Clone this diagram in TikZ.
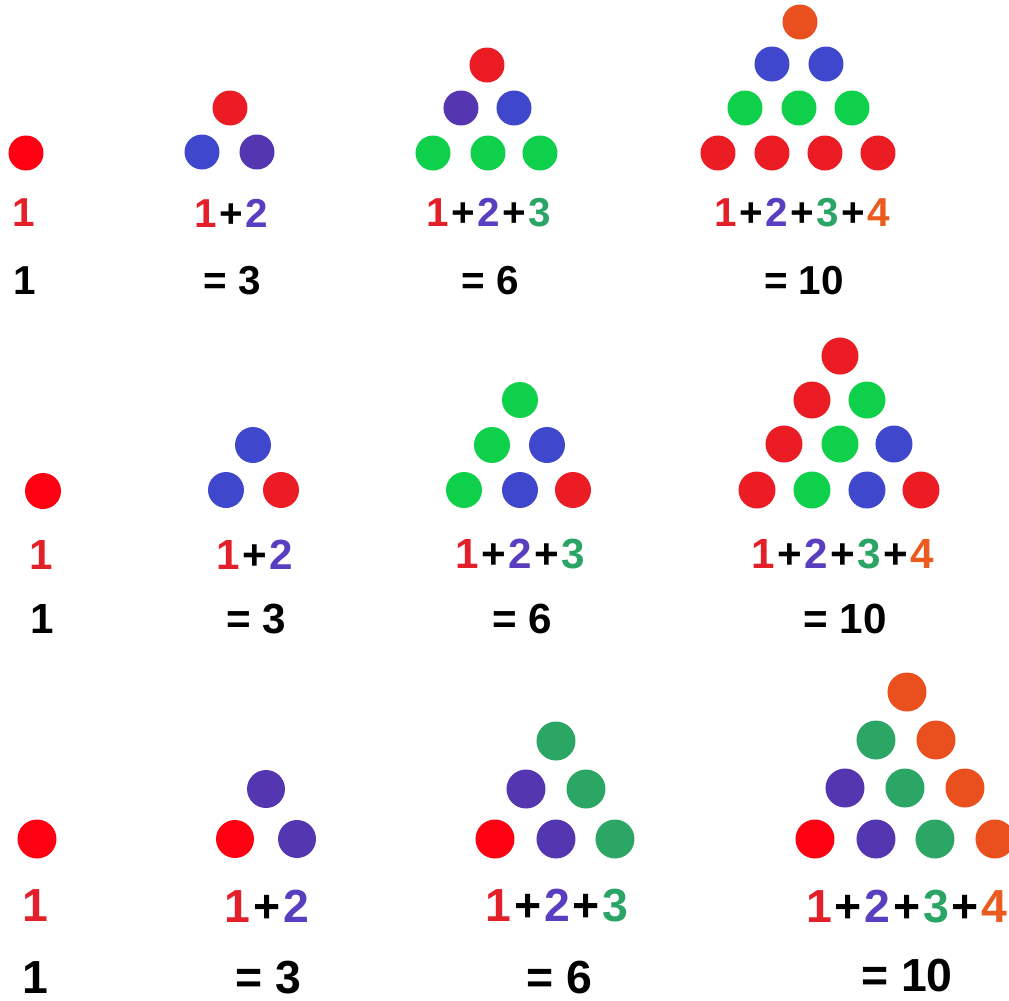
\documentclass[tikz,border=0pt]{standalone}
\usepackage{fontspec}
\setmainfont{Liberation Sans}
\usepackage{xcolor}
\definecolor{bred}{HTML}{FF0013}
\definecolor{dred}{HTML}{EC1C24}
\definecolor{dblue}{HTML}{3F48CC}
\definecolor{dpurple}{HTML}{5436B0}
\definecolor{lgreen}{HTML}{0FD04B}
\definecolor{dgreen}{HTML}{2CA664}
\definecolor{dorange}{HTML}{E9501E}
\definecolor{tred}{HTML}{E3202A}
\definecolor{tpurple}{HTML}{5A3EC0}
\definecolor{tgreen}{HTML}{2BA566}
\definecolor{torange}{HTML}{EB5B1E}
\newcommand{\numA}{\textcolor{tred}{1}}
\newcommand{\numB}{\textcolor{tpurple}{2}}
\newcommand{\numC}{\textcolor{tgreen}{3}}
\newcommand{\numD}{\textcolor{torange}{4}}
\newcommand{\addsign}{\kern.06em+\kern.06em}
\usetikzlibrary{positioning}
\tikzset{
  every picture/.style={line join=round, line cap=round},
  rowA/.style={inner sep=0pt, font=\fontsize{11.5}{13}\selectfont\bfseries},
  rowB/.style={inner sep=0pt, font=\fontsize{12}{14}\selectfont\bfseries},
  rowC/.style={inner sep=0pt, font=\fontsize{13.2}{15}\selectfont\bfseries},
}

\begin{document}
\begin{tikzpicture}
\useasboundingbox (0,0) rectangle (10.09,-10.01);
% first row
\fill[bred](0.26,-1.53)circle(0.175);
\fill[dred](2.30,-1.08)circle(0.175);
\fill[dblue](2.02,-1.52)circle(0.175);
\fill[dpurple](2.57,-1.52)circle(0.175);
\fill[dred](4.87,-0.65)circle(0.175);
\fill[dpurple](4.61,-1.08)circle(0.175);
\fill[dblue](5.14,-1.08)circle(0.175);
\fill[lgreen](4.33,-1.53)circle(0.175) (4.88,-1.53)circle(0.175) (5.40,-1.53)circle(0.175);
\fill[dorange](8.00,-0.22)circle(0.175);
\fill[dblue](7.72,-0.64)circle(0.175) (8.26,-0.64)circle(0.175);
\fill[lgreen](7.45,-1.08)circle(0.175) (7.99,-1.08)circle(0.175) (8.52,-1.08)circle(0.175);
\fill[dred](7.18,-1.53)circle(0.175) (7.72,-1.53)circle(0.175) (8.25,-1.53)circle(0.175) (8.78,-1.53)circle(0.175);
\draw(0.24,-2.13)node[rowA](sa1){\numA}
(0.25,-2.81)node[rowA](ra1){1}
(2.31,-2.13)node[rowA](sa2){\numA\addsign\numB}
(2.32,-2.81)node[rowA](ra2){= 3}
(4.89,-2.13)node[rowA](sa3){\numA\addsign\numB\addsign\numC}
(4.90,-2.81)node[rowA](ra3){= 6}
(8.02,-2.13)node[rowA](sa4){\numA\addsign\numB\addsign\numC\addsign\numD}
(8.04,-2.81)node[rowA](ra4){= 10};
% second row
\fill[bred](0.43,-4.91)circle(0.18);
\fill[dblue](2.53,-4.45)circle(0.18) (2.26,-4.90)circle(0.18);
\fill[dred](2.81,-4.90)circle(0.18);
\fill[lgreen](5.20,-4.00)circle(0.18) (4.92,-4.45)circle(0.18) (4.64,-4.90)circle(0.18);
\fill[dblue](5.47,-4.45)circle(0.18) (5.20,-4.90)circle(0.18);
\fill[dred](5.73,-4.90)circle(0.18);
\fill[dred](8.40,-3.56)circle(0.185) (8.12,-4.00)circle(0.185) (7.84,-4.44)circle(0.185) (7.57,-4.90)circle(0.185) (9.21,-4.90)circle(0.185);
\fill[lgreen](8.67,-4.00)circle(0.185) (8.40,-4.44)circle(0.185) (8.12,-4.90)circle(0.185);
\fill[dblue](8.94,-4.44)circle(0.185) (8.67,-4.90)circle(0.185);
\draw(0.41,-5.55)node[rowB](sb1){\numA}
(0.42,-6.19)node[rowB](rb1){1}
(2.55,-5.55)node[rowB](sb2){\numA\addsign\numB}
(2.56,-6.19)node[rowB](rb2){= 3}
(5.20,-5.54)node[rowB](sb3){\numA\addsign\numB\addsign\numC}
(5.22,-6.19)node[rowB](rb3){= 6}
(8.43,-5.54)node[rowB](sb4){\numA\addsign\numB\addsign\numC\addsign\numD}
(8.45,-6.19)node[rowB](rb4){= 10};
% third row
\fill[bred](0.37,-8.39)circle(0.195);
\fill[dpurple](2.66,-7.89)circle(0.19) (2.97,-8.39)circle(0.19);
\fill[bred](2.35,-8.39)circle(0.19);
\fill[dgreen](5.56,-7.41)circle(0.195) (5.86,-7.89)circle(0.195) (6.15,-8.39)circle(0.195);
\fill[dpurple](5.26,-7.89)circle(0.195) (5.56,-8.39)circle(0.195);
\fill[bred](4.95,-8.39)circle(0.195);
\fill[dorange](9.07,-6.92)circle(0.195) (9.36,-7.40)circle(0.195) (9.65,-7.88)circle(0.195) (9.95,-8.39)circle(0.195);
\fill[dgreen](8.76,-7.40)circle(0.195) (9.05,-7.88)circle(0.195) (9.35,-8.39)circle(0.195);
\fill[dpurple](8.45,-7.88)circle(0.195) (8.76,-8.39)circle(0.195);
\fill[bred](8.15,-8.39)circle(0.195);
\draw(0.35,-9.06)node[rowC](sc1){\numA}
(0.35,-9.78)node[rowC](rc1){1}
(2.67,-9.06)node[rowC](sc2){\numA\addsign\numB}
(2.68,-9.78)node[rowC](rc2){= 3}
(5.57,-9.06)node[rowC](sc3){\numA\addsign\numB\addsign\numC}
(5.59,-9.78)node[rowC](rc3){= 6}
(9.07,-9.07)node[rowC](sc4){\numA\addsign\numB\addsign\numC\addsign\numD}
(9.07,-9.76)node[rowC](rc4){= 10};
\end{tikzpicture}
\end{document}
